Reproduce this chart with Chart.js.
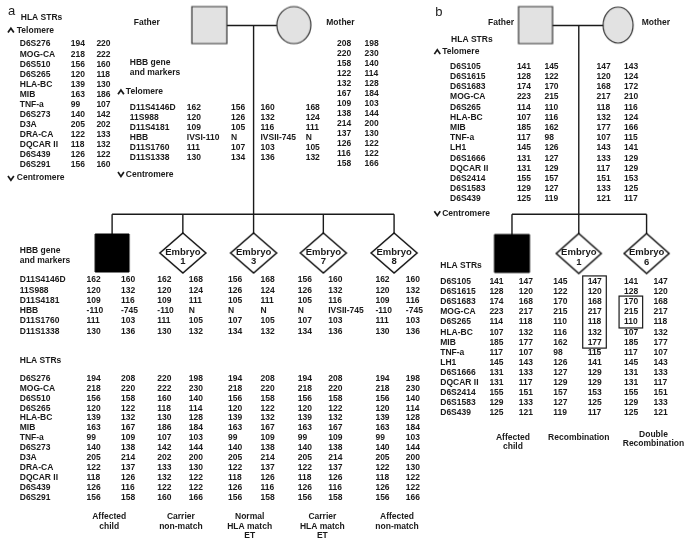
<!DOCTYPE html>
<html><head><meta charset="utf-8">
<script src="https://cdn.jsdelivr.net/npm/chart.js@4.4.1/dist/chart.umd.min.js"></script>
<style>html,body{margin:0;padding:0;background:#fff}#wrap{position:relative;width:685px;height:546px}</style>
</head><body><div id="wrap"><canvas id="c"></canvas></div>
<script>
// ================= DATA =================
// Panel a
const hlaMarkersA = ['D6S276','MOG-CA','D6S510','D6S265','HLA-BC','MIB','TNF-a','D6S273','D3A','DRA-CA','DQCAR II','D6S439','D6S291'];
const fatherHlaA1 = [194,218,156,120,139,163,99,140,205,122,118,126,156];
const fatherHlaA2 = [220,222,160,118,130,186,107,142,202,133,132,122,160];
const motherHlaA1 = [208,220,158,122,132,167,109,138,214,137,126,116,158];
const motherHlaA2 = [198,230,140,114,128,184,103,144,200,130,122,122,166];
const hbbMarkers = ['D11S4146D','11S988','D11S4181','HBB','D11S1760','D11S1338'];
const fatherHbb1 = ['162','120','109','IVSI-110','111','130'];
const fatherHbb2 = ['156','126','105','N','107','134'];
const motherHbb1 = ['160','132','116','IVSII-745','103','136'];
const motherHbb2 = ['168','124','111','N','105','132'];
const childNamesA = ['Affected child','Embryo 1','Embryo 3','Embryo 7','Embryo 8'];
const childHbbA = [
  [['162','120','109','-110','111','130'], ['160','132','116','-745','103','136']],
  [['162','120','109','-110','111','130'], ['168','124','111','N','105','132']],
  [['156','126','105','N','107','134'], ['168','124','111','N','105','132']],
  [['156','126','105','N','107','134'], ['160','132','116','IVSII-745','103','136']],
  [['162','120','109','-110','111','130'], ['160','132','116','-745','103','136']]
];
const childHlaA = [
  [[194,218,156,120,139,163,99,140,205,122,118,126,156],[208,220,158,122,132,167,109,138,214,137,126,116,158]],
  [[220,222,160,118,130,186,107,142,202,133,132,122,160],[198,230,140,114,128,184,103,144,200,130,122,122,166]],
  [[194,218,156,120,139,163,99,140,205,122,118,126,156],[208,220,158,122,132,167,109,138,214,137,126,116,158]],
  [[194,218,156,120,139,163,99,140,205,122,118,126,156],[208,220,158,122,132,167,109,138,214,137,126,116,158]],
  [[194,218,156,120,139,163,99,140,205,122,118,126,156],[198,230,140,114,128,184,103,144,200,130,122,122,166]]
];
const outcomeA = [['Affected','child'],['Carrier','non-match'],['Normal','HLA match','ET'],['Carrier','HLA match','ET'],['Affected','non-match']];

// Panel b
const hlaMarkersB = ['D6S105','D6S1615','D6S1683','MOG-CA','D6S265','HLA-BC','MIB','TNF-a','LH1','D6S1666','DQCAR II','D6S2414','D6S1583','D6S439'];
const fatherHlaB1 = [141,128,174,223,114,107,185,117,145,131,131,155,129,125];
const fatherHlaB2 = [145,122,170,215,110,116,162,98,126,127,129,157,127,119];
const motherHlaB1 = [147,120,168,217,118,132,177,107,143,133,117,151,133,121];
const motherHlaB2 = [143,124,172,210,116,124,166,115,141,129,129,153,125,117];
const childNamesB = ['Affected child','Embryo 1','Embryo 6'];
const childHlaB = [
  [[141,128,174,223,114,107,185,117,145,131,131,155,129,125],[147,120,168,217,118,132,177,107,143,133,117,151,133,121]],
  [[145,122,170,215,110,116,162,98,126,127,129,157,127,119],[147,120,168,217,118,132,177,115,141,129,129,153,125,117]],
  [[141,128,170,215,110,107,185,117,145,131,131,155,129,125],[147,120,168,217,118,132,177,107,143,133,117,151,133,121]]
];
const outcomeB = [['Affected','child'],['Recombination'],['Double','Recombination']];
// recombinant haplotype segments (child index, allele index, first row, last row)
const recombChild  = [1, 2];
const recombAllele = [1, 0];
const recombFrom   = [0, 2];
const recombTo     = [6, 4];

// ================= LAYOUT (pixels in scale units) =================
const LA = {
  father:{x:207,y:19.5,w:35,h:37}, mother:{x:293,y:19.5,w:34,h:37},
  lineY:20, dropX:252, sibY:213, childY:252.5, childX:[108,180,252,323,395],
  sq:{w:34,h:38}, dia:{w:46,h:40}
};
const LB = {
  father:{x:539,y:19.5,w:34,h:37}, mother:{x:623,y:19.5,w:30,h:36},
  lineY:20, dropX:583, sibY:213, childY:253, childX:[515,583,652],
  sq:{w:35,h:38}, dia:{w:45,h:40}
};
const GRAY = '#e2e2e2', INK = '#1a1a1a';
const F = "bold 8.5px 'Liberation Sans', Arial, sans-serif";
const FE = "bold 9.5px 'Liberation Sans', Arial, sans-serif";

function shape(kind, w, h, fill, stroke, lw) {
  const pad = 2;
  const c = document.createElement('canvas');
  c.width = w + 2*pad; c.height = h + 2*pad;
  const g = c.getContext('2d');
  g.fillStyle = fill; g.strokeStyle = stroke; g.lineWidth = lw;
  g.beginPath();
  if (kind === 'square') g.rect(pad, pad, w, h);
  else if (kind === 'ellipse') g.ellipse(pad + w/2, pad + h/2, w/2, h/2, 0, 0, Math.PI*2);
  else { g.moveTo(pad + w/2, pad); g.lineTo(pad + w, pad + h/2); g.lineTo(pad + w/2, pad + h); g.lineTo(pad, pad + h/2); g.closePath(); }
  g.fill(); g.stroke();
  return c;
}

function pedigree(P, nChildren) {
  const ds = [];
  const seg = (pts) => ds.push({type:'scatter', data: pts, showLine:true, borderColor:INK, borderWidth:1.4, pointRadius:0, order:2, clip:false});
  seg([{x:P.father.x, y:P.lineY},{x:P.mother.x, y:P.lineY}]);
  seg([{x:P.dropX, y:P.lineY},{x:P.dropX, y:P.sibY}]);
  seg([{x:P.childX[0], y:P.sibY},{x:P.childX[nChildren-1], y:P.sibY}]);
  P.childX.forEach(cx => seg([{x:cx, y:P.sibY},{x:cx, y:P.childY}]));
  const sym = (x, y, style) => ds.push({type:'scatter', data:[{x, y}], pointStyle:style, pointRadius:5, order:1, clip:false});
  sym(P.father.x, P.father.y, shape('square', P.father.w, P.father.h, GRAY, '#333', 1.2));
  sym(P.mother.x, P.mother.y, shape('ellipse', P.mother.w, P.mother.h, GRAY, '#333', 1.2));
  P.childX.forEach((cx, i) => {
    if (i === 0) sym(cx, P.childY, shape('square', P.sq.w, P.sq.h, '#000', '#000', 1));
    else sym(cx, P.childY, shape('diamond', P.dia.w, P.dia.h, '#fff', '#111', 1.5));
  });
  return ds;
}

const textPlugin = {
  id: 'pedigreeText',
  afterDatasetsDraw(chart) {
    const ctx = chart.ctx, xs = chart.scales.x, ys = chart.scales.y;
    const X = v => xs.getPixelForValue(v), Y = v => ys.getPixelForValue(v);
    ctx.save();
    ctx.fillStyle = INK; ctx.strokeStyle = INK; ctx.textBaseline = 'middle';
    const t = (s, x, y, align, font) => { ctx.font = font || F; ctx.textAlign = align || 'left'; ctx.fillText(String(s), X(x), Y(y)); };
    const col = (vals, x, y0, dy) => vals.forEach((v, i) => t(v, x, y0 + i*dy));
    const chev = (x, y, up) => {
      ctx.beginPath(); ctx.lineWidth = 1.7;
      const d = up ? 1 : -1;
      ctx.moveTo(X(x), Y(y + 2.2*d)); ctx.lineTo(X(x + 3), Y(y - 2.2*d)); ctx.lineTo(X(x + 6), Y(y + 2.2*d));
      ctx.stroke();
    };
    const multi = (lines, x, y0, dy) => lines.forEach((s, i) => t(s, x, y0 + i*dy, 'center'));
    const embryo = (name, x, y) => { const p = name.split(' '); t(p[0], x, y - 1, 'center', FE); t(p[1], x, y + 9, 'center', FE); };

    // ---------- panel a ----------
    t('a', 2, 6, 'left', "13px 'Liberation Sans', Arial, sans-serif");
    t('HLA STRs', 15, 12);
    chev(2, 25, true); t('Telomere', 11, 25);
    col(hlaMarkersA, 14, 39, 10.25);
    col(fatherHlaA1, 66, 39, 10.25); col(fatherHlaA2, 92, 39, 10.25);
    chev(2, 176, false); t('Centromere', 11, 176);
    t('Father', 130, 17);
    t('Mother', 326, 17);
    col(motherHlaA1, 337, 38.5, 10.25); col(motherHlaA2, 365, 38.5, 10.25);
    t('HBB gene', 126, 58); t('and markers', 126, 68);
    chev(114, 88, true); t('Telomere', 122, 88);
    col(hbbMarkers, 126, 104, 10.2);
    col(fatherHbb1, 184, 104, 10.2); col(fatherHbb2, 229, 104, 10.2);
    col(motherHbb1, 259, 104, 10.2); col(motherHbb2, 305, 104, 10.2);
    chev(114, 172, false); t('Centromere', 122, 172);
    // children
    const colsA = [[82,117],[154,186],[226,259],[297,328],[376,407]];
    childNamesA.forEach((n, i) => { if (i > 0) embryo(n, LA.childX[i], LA.childY); });
    t('HBB gene', 14, 250); t('and markers', 14, 260);
    col(hbbMarkers, 14, 280, 10.55);
    childHbbA.forEach((c, i) => { col(c[0], colsA[i][0], 280, 10.55); col(c[1], colsA[i][1], 280, 10.55); });
    t('HLA STRs', 14, 363);
    col(hlaMarkersA, 14, 381, 10.1);
    childHlaA.forEach((c, i) => { col(c[0], colsA[i][0], 381, 10.1); col(c[1], colsA[i][1], 381, 10.1); });
    const outXA = [105, 178, 248, 322, 398];
    outcomeA.forEach((o, i) => multi(o, outXA[i], 522, 10));

    // ---------- panel b ----------
    t('b', 437, 7, 'left', "13px 'Liberation Sans', Arial, sans-serif");
    t('Father', 517, 17, 'right');
    t('Mother', 647, 17);
    t('HLA STRs', 453, 34);
    chev(436, 47, true); t('Telomere', 444, 47);
    col(hlaMarkersB, 452, 62, 10.4);
    col(fatherHlaB1, 520, 62, 10.4); col(fatherHlaB2, 548, 62, 10.4);
    col(motherHlaB1, 601, 62, 10.4); col(motherHlaB2, 629, 62, 10.4);
    chev(436, 212, false); t('Centromere', 444, 212);
    childNamesB.forEach((n, i) => { if (i > 0) embryo(n, LB.childX[i], LB.childY); });
    t('HLA STRs', 442, 266);
    const colsB = [[492,522],[557,592],[629,659]];
    const y0B = 282, dyB = 10.3;
    col(hlaMarkersB, 442, y0B, dyB);
    childHlaB.forEach((c, i) => { col(c[0], colsB[i][0], y0B, dyB); col(c[1], colsB[i][1], y0B, dyB); });
    // recombination boxes
    ctx.lineWidth = 1.2;
    recombChild.forEach((ci, k) => {
      const cx = colsB[ci][recombAllele[k]];
      const x0 = X(cx - 5), x1 = X(cx + 19);
      const yA = Y(y0B + recombFrom[k]*dyB - 6), yB = Y(y0B + recombTo[k]*dyB + 6);
      ctx.strokeRect(x0, yA, x1 - x0, yB - yA);
    });
    multi(outcomeB[0], 516, 441, 10);
    multi(outcomeB[1], 583, 441, 10);
    multi(outcomeB[2], 659, 438, 10);
    ctx.restore();
  }
};

const datasets = [...pedigree(LA, 5), ...pedigree(LB, 3)];

new Chart(document.getElementById('c'), {
  type: 'scatter',
  data: { datasets },
  options: {
    responsive: true, maintainAspectRatio: false, animation: false, events: [],
    layout: { padding: 0 },
    plugins: { legend: { display: false }, tooltip: { enabled: false }, title: { display: false } },
    scales: {
      x: { type: 'linear', min: 0, max: 685, display: false },
      y: { type: 'linear', min: 0, max: 546, reverse: true, display: false }
    }
  },
  plugins: [textPlugin]
});
</script></body></html>
